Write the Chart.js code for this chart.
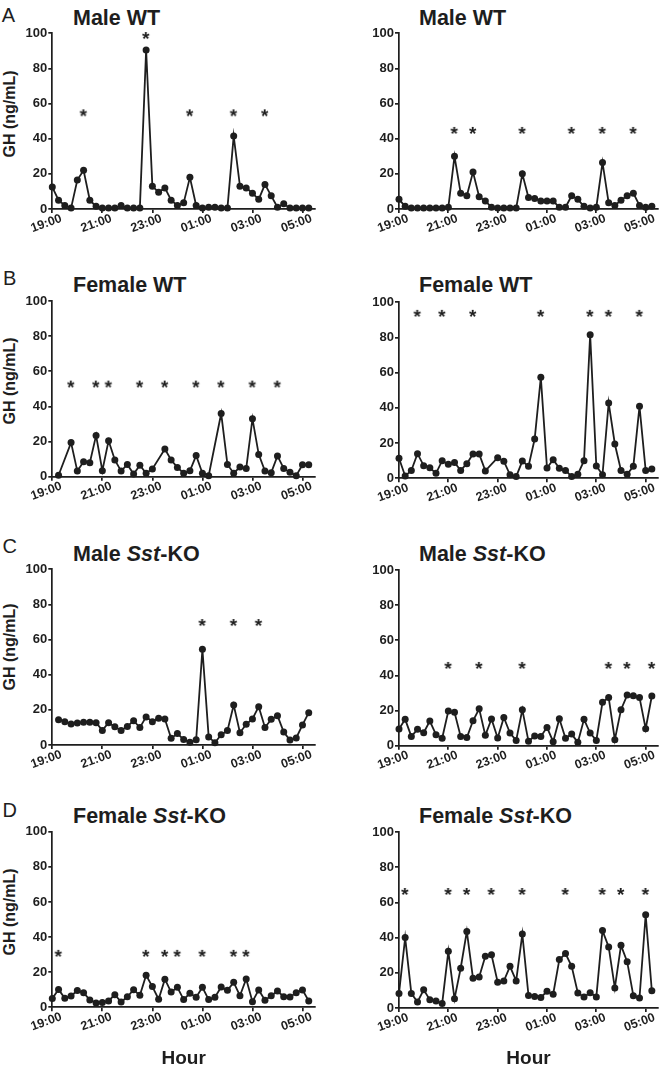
<!DOCTYPE html>
<html>
<head>
<meta charset="utf-8">
<script src="https://cdn.jsdelivr.net/npm/chart.js@4.4.0/dist/chart.umd.min.js"></script>
<style>
  body { margin: 0; background: #fff; }
  #fig { position: relative; width: 664px; height: 1073px; overflow: hidden;
         font-family: "Liberation Sans", Arial, Helvetica, sans-serif; color: #1e1e1e; }
  #fig canvas { position: absolute; }
  .ttl { position: absolute; font-weight: bold; font-size: 21.5px; line-height: 1; white-space: nowrap; }
  .let { position: absolute; font-size: 20px; line-height: 1; }
  .ylab { position: absolute; font-weight: bold; font-size: 16px; line-height: 1; white-space: nowrap;
          transform: translate(-50%, -50%) rotate(-90deg); }
</style>
</head>
<body>
<div id="fig"></div>
<script>
// samples every 15 min from 19:00 (index 0) to 05:15 (index 41)
const sampleIdx = [0,1,2,3,4,5,6,7,8,9,10,11,12,13,14,15,16,17,18,19,20,
                   21,22,23,24,25,26,27,28,29,30,31,32,33,34,35,36,37,38,39,40,41];
const hourTicks = [0, 8, 16, 24, 32, 40];
const hourLabels = ['19:00', '21:00', '23:00', '01:00', '03:00', '05:00'];
const ghTicks = [0, 20, 40, 60, 80, 100];

// GH (ng/mL), one array per mouse
const maleWT1 = [12.5, 5, 2, 0.5, 16.5, 22, 5, 1.5, 0.5, 0.5, 0.5, 2, 0.5, 0.5, 0.5, 90.5, 13, 9.5, 12, 5, 2,
                 3.5, 18, 2, 0.5, 1, 1, 0.5, 0.5, 41.5, 13, 12, 9, 5.5, 14, 7.5, 1, 3, 0.5, 0.5, 0.5, 0.5];
const maleWT2 = [5.5, 1.5, 0.5, 0.5, 0.5, 0.5, 0.5, 0.5, 1, 30, 9, 7.5, 21, 7, 4.5, 1, 0.5, 0.5, 0.5, 0.5, 20,
                 6.5, 6, 4.5, 4.5, 4.5, 1, 1, 7.5, 5.5, 1.5, 0.5, 1, 26.5, 3.5, 2, 5, 7.5, 9, 2, 1, 1.5];
const femaleWT1 = [null, 0.8, null, 19.4, 3.2, 8.5, 8, 23.5, 3.4, 20.5, 9.5, 3.2, 7, 1.5, 6.5, 2, 4.4, null, 15.7, 9.5, 5.3,
                   2, 3.4, 12, 2, 0.6, null, 36, 7, 2, 5.5, 4.6, 33, 12.7, 3.2, 2.3, 11.8, 4.7, 2.5, 0.6, 6.8, 6.8];
const femaleWT2 = [11.4, 1.3, 4.4, 14, 7.2, 6, 2.8, 10, 8, 9, 4.5, 8.3, 13.8, 13.8, 4.2, null, 11.7, 9.7, 2, 1, 9.8,
                   6.8, 22.3, 57.4, 5.9, 10.6, 5.7, 4.5, 1, 2.3, 10, 81.6, 7, 2, 42.8, 19.5, 4.5, 2.3, 6.8, 40.9, 4.5, 5.3];
const maleKO1 = [null, 14.4, 13.3, 12, 12.5, 13, 13, 12.7, 8.3, 12.7, 10.4, 8.3, 10.6, 13.8, 9.9, 16, 13.3, 15.2, 14.8, 3.8, 6.5,
                 3.2, 1.5, 3, 54.5, 4.6, 1.3, 5.9, 8.2, 22.8, 7, 11.8, 14.8, 21.8, 10, 14.6, 16.7, 7.4, 2.8, 4, 11.4, 18.4];
const maleKO2 = [9.5, 15, 5.3, 9.3, 7.4, 14, 6.3, 4.2, 19.7, 19, 5.3, 4.6, 14.2, 21, 5.9, 15.2, 4.4, 16.1, 7.2, 3, 20.5,
                 2.5, 5.5, 5.3, 10.4, 2.3, 15.4, 4.2, 6.6, 1.9, 15, 7.2, 3, 24.7, 27.5, 3.4, 20.5, 28.8, 28.5, 27.5, 9.7, 28.3];
const femaleKO1 = [5, 10.2, 5.1, 6.5, 9.5, 8.3, 4.2, 2.5, 2.8, 3.6, 7.2, 3, 6, 10, 6.8, 18.2, 11.8, 4.6, 16, 8.7, 11.4,
                   4.4, 8, 5.7, 11.4, 4.4, 5.7, 11.6, 9.7, 14.2, 6.6, 16.1, 3.2, 9.9, 4, 6.6, 9.3, 6, 5.9, 8.3, 9.9, 3.6];
const femaleKO2 = [8.3, 40, 8.3, 3.4, 10.3, 4.7, 4, 2.5, 32.2, 5.2, 22.6, 43.5, 16.9, 17.6, 29.4, 30.2, 14.6, 15.3, 23.7, 15.4, 42,
                   7.1, 6.6, 6, 9.5, 7.8, 27.5, 30.9, 23.7, 8.5, 6.3, 8.7, 6.3, 44, 34.7, 11.4, 35.6, 26.3, 7, 5.7, 53, 9.8];

// pulses marked with * (sample index, height of the mark)
const starsMaleWT1 = [5, 15, 22, 29, 34];
const starYMaleWT1 = [55, 99, 55, 55, 55];
const starsMaleWT2 = [9, 12, 20, 28, 33, 38];
const starYMaleWT2 = [45, 45, 45, 45, 45, 45];
const starsFemaleWT1 = [3, 7, 9, 14, 18, 23, 27, 32, 36];
const starYFemaleWT1 = [53, 53, 53, 53, 53, 53, 53, 53, 53];
const starsFemaleWT2 = [3, 7, 12, 23, 31, 34, 39];
const starYFemaleWT2 = [94, 94, 94, 94, 94, 94, 94];
const starsMaleKO1 = [24, 29, 33];
const starYMaleKO1 = [70, 70, 70];
const starsMaleKO2 = [8, 13, 20, 34, 37, 41];
const starYMaleKO2 = [46, 46, 46, 46, 46, 46];
const starsFemaleKO1 = [1, 15, 18, 20, 24, 29, 31];
const starYFemaleKO1 = [31, 31, 31, 31, 31, 31, 31];
const starsFemaleKO2 = [1, 8, 11, 15, 20, 27, 33, 36, 40];
const starYFemaleKO2 = [66.5, 66.5, 66.5, 66.5, 66.5, 66.5, 66.5, 66.5, 66.5];

const ink = '#1e1e1e';
const FONT = '"Liberation Sans", Arial, Helvetica, sans-serif';

// columns: canvas left edge, plot left/right
const cols = [
  { x0: 0, w: 330, left: 52.3, right: 315 },
  { x0: 330, w: 334, left: 399, right: 661.7 }
];
// rows: plot top (100) / bottom (0) per column, title baseline, letter
const rows = [
  { top: [33.3, 33.3], bot: [209, 209], title: 'Male WT', letter: 'A', letterY: 21.7, letterX: 1.7, titleY: 26, ylabY: 113.5 },
  { top: [301, 302.3], bot: [476.7, 478.3], title: 'Female WT', letter: 'B', letterY: 285, letterX: 3, titleY: 293.3, ylabY: 380.5 },
  { top: [569.3, 570], bot: [745, 745.7], title: 'Male <i>Sst</i>-KO', letter: 'C', letterY: 553.3, letterX: 2.5, titleY: 561.7, ylabY: 647 },
  { top: [831.7, 832], bot: [1007.3, 1008], title: 'Female <i>Sst</i>-KO', letter: 'D', letterY: 816.7, letterX: 2.5, titleY: 824.3, ylabY: 911.7 }
];
const series = [[maleWT1, maleWT2], [femaleWT1, femaleWT2], [maleKO1, maleKO2], [femaleKO1, femaleKO2]];
const stars = [[starsMaleWT1, starsMaleWT2], [starsFemaleWT1, starsFemaleWT2], [starsMaleKO1, starsMaleKO2], [starsFemaleKO1, starsFemaleKO2]];
const starYs = [[starYMaleWT1, starYMaleWT2], [starYFemaleWT1, starYFemaleWT2], [starYMaleKO1, starYMaleKO2], [starYFemaleKO1, starYFemaleKO2]];

function makeStar() {
  const c = document.createElement('canvas');
  c.width = 14; c.height = 14;
  const g = c.getContext('2d');
  g.font = 'bold 19px ' + FONT;
  g.fillStyle = ink;
  const m = g.measureText('*');
  const w = m.actualBoundingBoxLeft + m.actualBoundingBoxRight;
  const h = m.actualBoundingBoxAscent + m.actualBoundingBoxDescent;
  g.fillText('*', (14 - w) / 2 + m.actualBoundingBoxLeft, (14 - h) / 2 + m.actualBoundingBoxAscent);
  return c;
}
const starImg = makeStar();

const fig = document.getElementById('fig');

function addDiv(cls, html, left, top) {
  const d = document.createElement('div');
  d.className = cls;
  d.innerHTML = html;
  d.style.left = left + 'px';
  d.style.top = top + 'px';
  fig.appendChild(d);
}

rows.forEach((row, r) => {
  const last = r === rows.length - 1;
  addDiv('let', row.letter, row.letterX, row.letterY - 0.8465 * 20);
  addDiv('ylab', 'GH (ng/mL)', 9.5, row.ylabY);

  cols.forEach((col, c) => {
    addDiv('ttl', row.title, col.x0 === 0 ? 73 : 419, row.titleY - 0.8465 * 21.5);

    const canvasTop = Math.floor(row.top[c]) - 30;
    const padTop = row.top[c] - canvasTop;
    const canvasH = last ? 1073 - canvasTop : Math.round(row.bot[c] - canvasTop + 36);
    const xH = canvasH - (row.bot[c] - canvasTop);
    const yW = col.left - col.x0;
    const padRight = col.x0 + col.w - col.right;

    const cv = document.createElement('canvas');
    cv.width = col.w; cv.height = canvasH;
    cv.style.width = col.w + 'px'; cv.style.height = canvasH + 'px';
    cv.style.left = col.x0 + 'px'; cv.style.top = canvasTop + 'px';
    fig.appendChild(cv);

    const vals = series[r][c];
    const st = stars[r][c];
    const sy = starYs[r][c];

    new Chart(cv, {
      type: 'line',
      data: {
        datasets: [
          {
            data: sampleIdx.map((x, i) => ({ x: x, y: vals[i] })),
            borderColor: ink,
            borderWidth: 1.8,
            pointRadius: 3.5,
            pointBackgroundColor: ink,
            pointBorderWidth: 0,
            spanGaps: true,
            tension: 0,
            clip: false
          },
          {
            data: st.map((x, i) => ({ x: x, y: sy[i] })),
            showLine: false,
            pointStyle: starImg,
            pointRadius: 5,
            clip: false
          }
        ]
      },
      options: {
        responsive: false,
        animation: false,
        events: [],
        layout: { padding: { top: padTop, left: 0, right: padRight, bottom: 0 } },
        plugins: { legend: { display: false }, tooltip: { enabled: false } },
        scales: {
          x: {
            type: 'linear', min: 0, max: 42,
            afterBuildTicks: s => { s.ticks = hourTicks.map(v => ({ value: v })); },
            afterFit: s => { s.height = xH; s.paddingLeft = 0; s.paddingRight = 0; },
            ticks: {
              autoSkip: false, minRotation: 20, maxRotation: 20, labelOffset: 9, padding: -2,
              color: ink, font: { family: FONT, size: 12.5, weight: 'bold' },
              callback: v => hourLabels[hourTicks.indexOf(v)]
            },
            grid: { display: true, drawOnChartArea: false, drawTicks: true, tickLength: 4, color: ink, lineWidth: 1.7 },
            border: { display: true, color: ink, width: 1.7 },
            title: {
              display: last, text: 'Hour', color: ink,
              font: { family: FONT, size: 19, weight: 'bold' }, padding: { top: 0, bottom: 3 }
            }
          },
          y: {
            min: 0, max: 100,
            afterBuildTicks: s => { s.ticks = ghTicks.map(v => ({ value: v })); },
            afterFit: s => { s.width = yW; },
            ticks: { padding: 1, color: ink, font: { family: FONT, size: 13, weight: 'bold' } },
            grid: { display: true, drawOnChartArea: false, drawTicks: true, tickLength: 4, color: ink, lineWidth: 1.7 },
            border: { display: true, color: ink, width: 1.7 }
          }
        }
      }
    });
  });
});
</script>
</body>
</html>
